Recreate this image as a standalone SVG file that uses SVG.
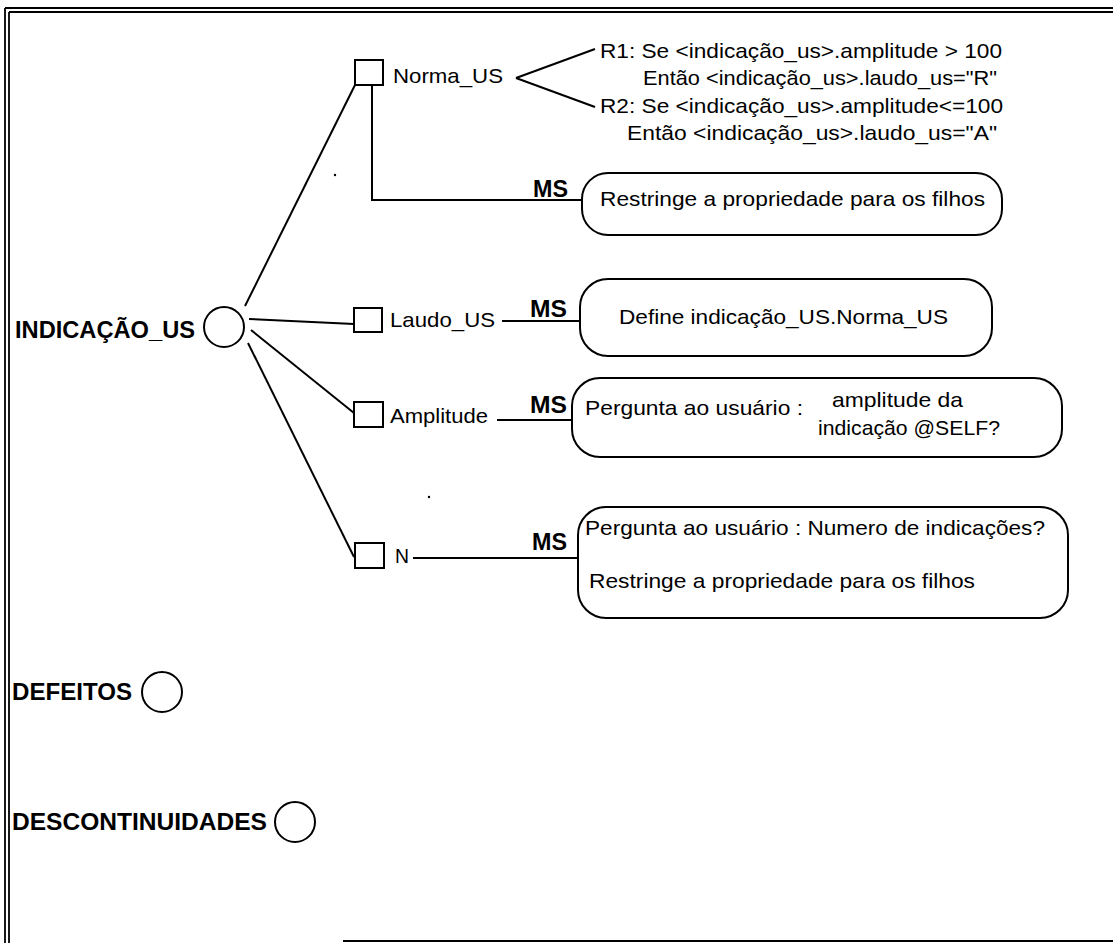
<svg xmlns="http://www.w3.org/2000/svg" width="1113" height="943" viewBox="0 0 1113 943">
  <style>
    .ln { stroke: #000; stroke-width: 2; fill: none; }
    .frame { stroke: #000; stroke-width: 1.8; fill: none; }
    .box { stroke: #000; stroke-width: 2; fill: #fff; }
    .card { stroke: #000; stroke-width: 2; fill: #fff; }
    .t { font-family: "Liberation Sans", Arial, sans-serif; font-size: 21px; fill: #000; }
    .b { font-family: "Liberation Sans", Arial, sans-serif; font-size: 24px; font-weight: bold; fill: #000; }
    .ms { font-family: "Liberation Sans", Arial, sans-serif; font-size: 23px; font-weight: bold; fill: #000; }
  </style>
  <rect x="0" y="0" width="1113" height="943" fill="#fff"/>

  <!-- page frame -->
  <g id="frame">
    <line class="frame" x1="5" y1="8" x2="1113" y2="8"/>
    <line class="frame" x1="9" y1="12" x2="1113" y2="12"/>
    <line class="frame" x1="5" y1="8" x2="5" y2="943"/>
    <line class="frame" x1="9" y1="12" x2="9" y2="943"/>
    <line class="frame" x1="343" y1="941" x2="1113" y2="941"/>
  </g>

  <!-- connectors -->
  <g id="connectors">
    <line class="ln" x1="245" y1="306" x2="355" y2="85"/>
    <polyline class="ln" points="372,85 372,200 582,200"/>
    <line class="ln" x1="516" y1="78" x2="595" y2="49"/>
    <line class="ln" x1="516" y1="78" x2="595" y2="107"/>
    <line class="ln" x1="249" y1="319" x2="354" y2="324"/>
    <line class="ln" x1="502" y1="321" x2="580" y2="321"/>
    <line class="ln" x1="251" y1="330" x2="354" y2="413"/>
    <line class="ln" x1="497" y1="420" x2="572" y2="420"/>
    <line class="ln" x1="248" y1="343" x2="354" y2="557"/>
    <line class="ln" x1="413" y1="558" x2="578" y2="558"/>
  </g>

  <!-- root classes -->
  <g id="indicacao-us">
    <circle class="box" cx="224" cy="327" r="20"/>
    <text class="b" x="15" y="338" textLength="180" lengthAdjust="spacingAndGlyphs">INDICAÇÃO_US</text>
  </g>
  <g id="defeitos">
    <circle class="box" cx="162" cy="692" r="20"/>
    <text class="b" x="12" y="700" textLength="120" lengthAdjust="spacingAndGlyphs">DEFEITOS</text>
  </g>
  <g id="descontinuidades">
    <circle class="box" cx="295" cy="822" r="20"/>
    <text class="b" x="12" y="830" textLength="255" lengthAdjust="spacingAndGlyphs">DESCONTINUIDADES</text>
  </g>

  <!-- attributes -->
  <g id="norma-us">
    <rect class="box" x="355" y="60" width="28" height="25"/>
    <text class="t" x="393" y="83" textLength="110" lengthAdjust="spacingAndGlyphs">Norma_US</text>
  </g>
  <g id="laudo-us">
    <rect class="box" x="354" y="308" width="28" height="24"/>
    <text class="t" x="390" y="327" textLength="105" lengthAdjust="spacingAndGlyphs">Laudo_US</text>
  </g>
  <g id="amplitude">
    <rect class="box" x="354" y="402" width="29" height="25"/>
    <text class="t" x="390" y="423" textLength="98" lengthAdjust="spacingAndGlyphs">Amplitude</text>
  </g>
  <g id="n">
    <rect class="box" x="355" y="543" width="29" height="25"/>
    <text class="t" x="395" y="563" textLength="14" lengthAdjust="spacingAndGlyphs">N</text>
  </g>

  <!-- rules on Norma_US -->
  <g id="rules">
    <text class="t" x="600" y="58" textLength="402" lengthAdjust="spacingAndGlyphs">R1: Se &lt;indicação_us&gt;.amplitude &gt; 100</text>
    <text class="t" x="643" y="85" textLength="354" lengthAdjust="spacingAndGlyphs">Então &lt;indicação_us&gt;.laudo_us="R"</text>
    <text class="t" x="600" y="113" textLength="403" lengthAdjust="spacingAndGlyphs">R2: Se &lt;indicação_us&gt;.amplitude&lt;=100</text>
    <text class="t" x="627" y="140" textLength="370" lengthAdjust="spacingAndGlyphs">Então &lt;indicação_us&gt;.laudo_us="A"</text>
  </g>

  <!-- method slots -->
  <g id="ms-norma">
    <text class="ms" x="533" y="197" textLength="35" lengthAdjust="spacingAndGlyphs">MS</text>
    <rect class="card" x="582" y="173" width="420" height="62" rx="26" ry="26"/>
    <text class="t" x="600" y="206" textLength="385" lengthAdjust="spacingAndGlyphs">Restringe a propriedade para os filhos</text>
  </g>
  <g id="ms-laudo">
    <text class="ms" x="530" y="317" textLength="37" lengthAdjust="spacingAndGlyphs">MS</text>
    <rect class="card" x="580" y="279" width="412" height="77" rx="28" ry="28"/>
    <text class="t" x="619" y="324" textLength="329" lengthAdjust="spacingAndGlyphs">Define indicação_US.Norma_US</text>
  </g>
  <g id="ms-amplitude">
    <text class="ms" x="530" y="413" textLength="37" lengthAdjust="spacingAndGlyphs">MS</text>
    <rect class="card" x="572" y="378" width="490" height="79" rx="28" ry="28"/>
    <text class="t" x="585" y="415" textLength="218" lengthAdjust="spacingAndGlyphs">Pergunta ao usuário :</text>
    <text class="t" x="832" y="407" textLength="131" lengthAdjust="spacingAndGlyphs">amplitude da</text>
    <text class="t" x="818" y="435" textLength="182" lengthAdjust="spacingAndGlyphs">indicação @SELF?</text>
  </g>
  <g id="ms-n">
    <text class="ms" x="532" y="550" textLength="35" lengthAdjust="spacingAndGlyphs">MS</text>
    <rect class="card" x="578" y="507" width="490" height="111" rx="28" ry="28"/>
    <text class="t" x="585" y="535" textLength="460" lengthAdjust="spacingAndGlyphs">Pergunta ao usuário : Numero de indicações?</text>
    <text class="t" x="589" y="588" textLength="386" lengthAdjust="spacingAndGlyphs">Restringe a propriedade para os filhos</text>
  </g>

  <!-- stray specks -->
  <circle cx="335" cy="175" r="1.2" fill="#000"/>
  <circle cx="429" cy="497" r="1.2" fill="#000"/>
</svg>
